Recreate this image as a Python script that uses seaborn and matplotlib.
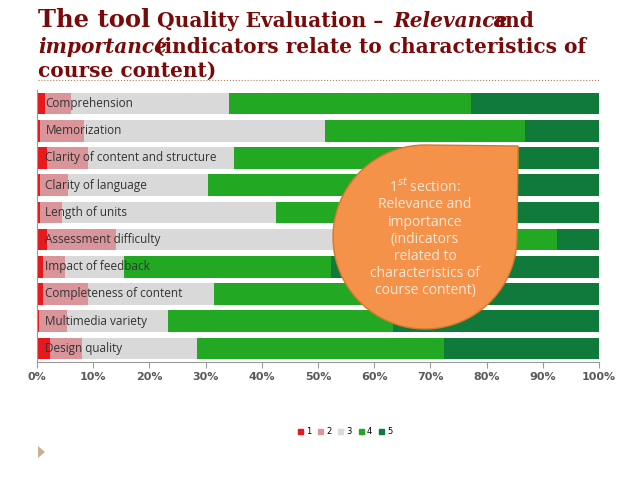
import matplotlib
matplotlib.use('Agg')
import matplotlib.pyplot as plt
import matplotlib.patches as mpatches
import numpy as np
import pandas as pd
import seaborn as sns

items = ['Comprehension', 'Memorization', 'Clarity of content and structure',
         'Clarity of language', 'Length of units', 'Assessment difficulty',
         'Impact of feedback', 'Completeness of content', 'Multimedia variety',
         'Design quality']
# share of answers per score (percent)
s1 = [1.4, 0.5, 1.8, 0.5, 0.6, 1.8, 1.0, 1.0, 0.3, 2.4]
s2 = [4.6, 7.9, 7.2, 5.0, 3.8, 12.2, 3.9, 8.0, 5.1, 5.6]
s3 = [28.2, 42.8, 26.0, 24.9, 38.2, 66.0, 10.6, 22.5, 17.9, 20.5]
s4 = [43.1, 35.6, 50.8, 55.2, 43.0, 12.5, 36.8, 38.5, 40.1, 43.9]
s5 = [22.7, 13.2, 14.2, 14.4, 14.4, 7.5, 47.7, 30.0, 36.6, 27.6]
scores = ['1', '2', '3', '4', '5']
colors = ['#e8191c', '#d9959a', '#d9d9d9', '#22a822', '#0f7a3a']

df = pd.DataFrame({'item': items, '1': s1, '2': s2, '3': s3, '4': s4, '5': s5})
cum = df[scores].cumsum(axis=1)

fig = plt.figure(figsize=(6.38, 4.79), dpi=100)
ax = fig.add_axes([37/638, 1-362/479, 562/638, 272/479])

# stacked bars: draw cumulative totals from the largest down
for sc, col in reversed(list(zip(scores, colors))):
    sns.barplot(x=cum[sc], y=df['item'], color=col, width=0.8, ax=ax,
                orient='h', saturation=1)

for i, name in enumerate(items):
    ax.text(1.5, i, name, va='center', ha='left', fontsize=8.5,
            family='Open Sans', color='#333333')

ax.set_xlim(0, 100)
ax.set_ylim(len(items) - 0.5, -0.5)
ax.set_yticks([])
ax.set_ylabel('')
ax.set_xlabel('')
ax.set_xticks(range(0, 101, 10))
ax.set_xticklabels([f'{t}%' for t in range(0, 101, 10)], fontsize=8,
                   fontweight='bold', color='#595959')
for s in ['top', 'right']:
    ax.spines[s].set_visible(False)
ax.spines['left'].set_color('#999999')
ax.spines['bottom'].set_color('#999999')
ax.tick_params(axis='x', color='#999999', length=4)

# orange callout
cx, cy, r = 425, 237, 92
ang = np.linspace(0, -270, 80) * np.pi / 180
pts = [(cx + r*np.cos(a), cy - r*np.sin(a)) for a in ang]
pts += [(518, 146), (cx + r, cy)]
pts = [(x/638, 1 - y/479) for x, y in pts]
blob = mpatches.Polygon(pts, closed=True, transform=fig.transFigure,
                        facecolor='#f5924a', edgecolor='#d9762e', lw=1, zorder=5)
fig.patches.append(blob)
fig.text(cx/638, 1-238/479,
         '1$^{st}$ section:\nRelevance and\nimportance\n(indicators\nrelated to\ncharacteristics of\ncourse content)',
         ha='center', va='center', color='#fde8d8', fontsize=10,
         family='Open Sans', linespacing=1.2, zorder=6)

# title
red = '#7a0a0a'
fs = 14.5
fig.text(38/638, 1-20/479, 'The tool', fontsize=17.5, fontweight='bold',
         family='DejaVu Serif', color=red, va='center')
fig.text(157/638, 1-21/479, 'Quality Evaluation \u2013', fontsize=fs,
         fontweight='bold', family='DejaVu Serif', color=red, va='center')
fig.text(393/638, 1-21/479, 'Relevance', fontsize=fs, fontweight='bold',
         style='italic', family='DejaVu Serif', color=red, va='center')
fig.text(492/638, 1-21/479, 'and', fontsize=fs, fontweight='bold',
         family='DejaVu Serif', color=red, va='center')
fig.text(38/638, 1-47/479, 'importance', fontsize=fs, fontweight='bold',
         style='italic', family='DejaVu Serif', color=red, va='center')
fig.text(155/638, 1-47/479, '(indicators relate to characteristics of',
         fontsize=fs, fontweight='bold', family='DejaVu Serif', color=red,
         va='center')
fig.text(38/638, 1-71/479, 'course content)', fontsize=fs, fontweight='bold',
         family='DejaVu Serif', color=red, va='center')
fig.add_artist(plt.Line2D([38/638, 600/638], [1-80/479, 1-80/479],
                          transform=fig.transFigure, color='#b08060',
                          lw=0.8, ls=':'))

# legend
handles = [mpatches.Patch(color=c, label=s) for s, c in zip(scores, colors)]
fig.legend(handles=handles, loc='center', bbox_to_anchor=(345/638, 1-432/479),
           ncol=5, frameon=False, fontsize=6, handlelength=0.6,
           handleheight=0.6, columnspacing=0.8, handletextpad=0.4)

# slide bullet
fig.patches.append(mpatches.Polygon(
    [(38/638, 1-446/479), (38/638, 1-458/479), (45/638, 1-452/479)],
    closed=True, transform=fig.transFigure, facecolor='#c8b090'))

fig.savefig('out.png', dpi=100, facecolor='white')
